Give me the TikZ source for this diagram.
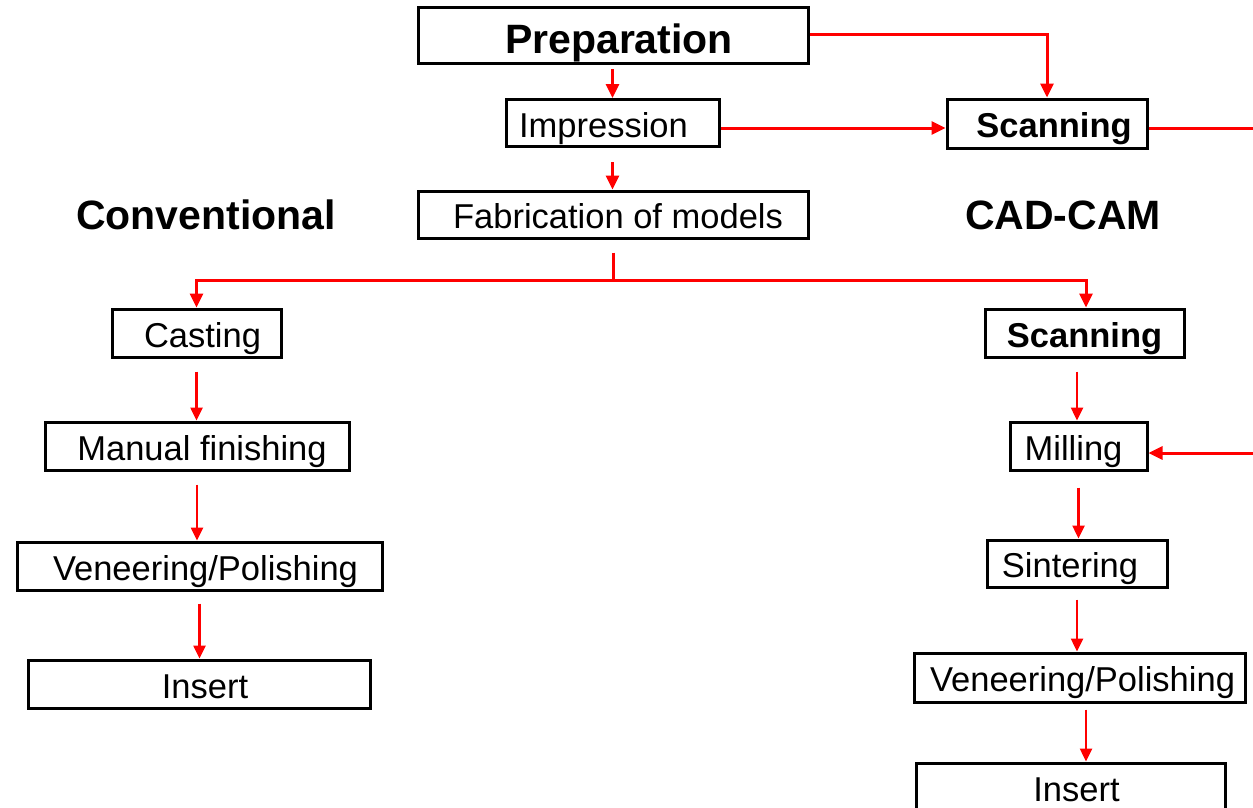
\documentclass[tikz,border=0pt]{standalone}
\usepackage{fontspec}
\setmainfont{Liberation Sans}
\usetikzlibrary{arrows.meta}
\begin{document}
\begin{tikzpicture}[x=1pt,y=-1pt,
  box/.style={draw=black, line width=3pt, rectangle, inner sep=0pt, fill=white,
    text height=28.5pt, text depth=0pt,
    font=\fontsize{34.5}{40}\selectfont},
  bigbox/.style={box, text height=34.6pt, font=\fontsize{41}{48}\selectfont\bfseries},
  boldbox/.style={box, font=\fontsize{34.5}{40}\selectfont\bfseries},
  heading/.style={inner sep=0pt, font=\fontsize{41}{48}\selectfont\bfseries},
  redline/.style={draw={rgb,255:red,255;green,0;blue,0}, line width=3pt},
  arr/.style={redline, -{Triangle[length=14pt,width=13pt]}},
  thinarr/.style={draw={rgb,255:red,255;green,0;blue,0}, line width=2.5pt,
    -{Triangle[length=13pt,width=12pt]}}
]
\useasboundingbox (0,0) rectangle (1253,808);
\clip (0,0) rectangle (1253,808);

% top chain
\node[bigbox, minimum width=390pt, minimum height=56pt] (prep) at (613,36) {\hspace*{12pt}Preparation};
\node[box, minimum width=213pt, minimum height=47pt] (imp) at (612.5,123) {Impression\hspace*{18pt}};
\node[box, minimum width=390pt, minimum height=47pt] (fab) at (613,214.5) {\hspace*{10pt}Fabrication of models};
\node[boldbox, minimum width=200pt, minimum height=49pt] (scan) at (1047,123.5) {\hspace*{14pt}Scanning};

% headings
\node[heading] (conv) at (206,215) {Conventional};
\node[heading] (cadcam) at (1063,215) {CAD-CAM};

% conventional column
\node[box, minimum width=169pt, minimum height=48pt] (cast) at (196.5,333) {\hspace*{12pt}Casting};
\node[box, minimum width=304pt, minimum height=48pt] (man) at (197,446) {\hspace*{10pt}Manual finishing};
\node[box, minimum width=365pt, minimum height=48pt] (venL) at (199.5,566) {\hspace*{12pt}Veneering/Polishing};
\node[box, minimum width=342pt, minimum height=48pt] (insL) at (199,684) {\hspace*{12pt}Insert};

% CAD-CAM column
\node[boldbox, minimum width=199pt, minimum height=48pt] (scan2) at (1084.5,333) {Scanning};
\node[box, minimum width=137pt, minimum height=48pt] (mill) at (1078.5,446) {Milling\hspace*{10pt}};
\node[box, minimum width=180pt, minimum height=47pt] (sint) at (1077,563.5) {Sintering\hspace*{14pt}};
\node[box, minimum width=331pt, minimum height=49pt] (venR) at (1079.5,677.5) {\hspace*{6pt}Veneering/Polishing};
\node[box, minimum width=309pt, minimum height=48pt] (insR) at (1070.5,787) {\hspace*{12pt}Insert};

% coordinates
\coordinate (bj) at (613,280);
\coordinate (offR) at (1300,128.5);

% top connectors
\draw[arr, shorten <=4pt] (prep.south -| imp.north) -- (imp.north);
\draw[arr, shorten <=14pt] (imp.south) -- (imp.south |- fab.north);
\draw[arr] ([yshift=1pt]prep.east) -| (scan.north);
\draw[arr] ([yshift=-5pt]imp.east) -- ([yshift=-5pt]imp.east -| scan.west);
\draw[arr] ([yshift=-5pt]scan.east) -- (offR) |- ([yshift=-7pt]mill.east);

% branch
\draw[redline, shorten <=13pt] (fab.south) -- (bj);
\draw[arr] (bj) -| (cast.north);
\draw[arr] (bj) -| ([xshift=1.5pt]scan2.north);

% conventional arrows
\draw[thinarr, shorten <=13pt] (cast.south) -- (cast.south |- man.north);
\draw[thinarr, shorten <=13pt] (man.south) -- (man.south |- venL.north);
\draw[thinarr, shorten <=12pt] (venL.south) -- (venL.south |- insL.north);

% CAD-CAM arrows
\draw[thinarr, shorten <=13pt] ([xshift=-1.5pt]mill.north |- scan2.south) -- ([xshift=-1.5pt]mill.north);
\draw[thinarr, shorten <=16pt] (mill.south) -- (mill.south |- sint.north);
\draw[thinarr, shorten <=11pt] (sint.south) -- (sint.south |- venR.north);
\draw[thinarr, shorten <=6pt] ([xshift=6.5pt]venR.south) -- ([xshift=6.5pt]venR.south |- insR.north);
\end{tikzpicture}
\end{document}
